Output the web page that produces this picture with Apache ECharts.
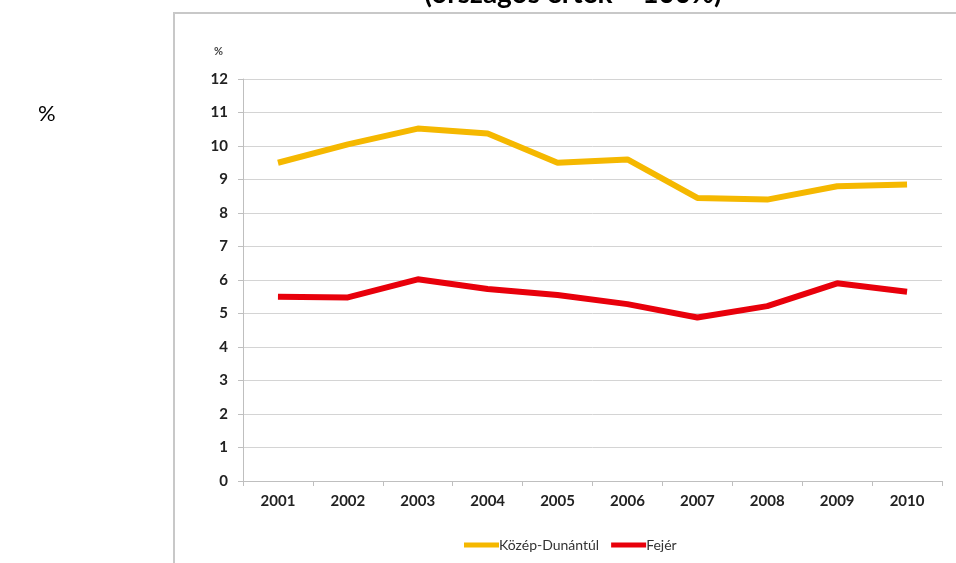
<!DOCTYPE html>
<html>
<head>
<meta charset="utf-8">
<script src="https://cdn.jsdelivr.net/npm/echarts@6/dist/echarts.min.js"></script>
<style>
  html, body { margin: 0; padding: 0; background: #fff; }
  #chart { width: 956px; height: 563px; }
</style>
</head>
<body>
<div id="chart"></div>
<script>
const years = ['2001', '2002', '2003', '2004', '2005', '2006', '2007', '2008', '2009', '2010'];
const kozepDunantul = [9.5, 10.05, 10.52, 10.37, 9.5, 9.6, 8.45, 8.4, 8.8, 8.85];
const fejer = [5.5, 5.48, 6.02, 5.73, 5.55, 5.28, 4.88, 5.22, 5.9, 5.65];

const chart = echarts.init(document.getElementById('chart'));

const option = {
    backgroundColor: '#fff',
    textStyle: { fontFamily: 'Lato' },
    title: {
        text: '(országos érték = 100%)',
        left: 568,
        textAlign: 'center',
        top: -25,
        textStyle: { fontSize: 28, fontWeight: 'bold', color: '#000', fontFamily: 'Lato' }
    },
    graphic: [
        {
            type: 'rect',
            shape: { x: 174, y: 13, width: 800, height: 600 },
            style: { fill: 'none', stroke: '#c8c8c8', lineWidth: 2 },
            z: 0
        },
        {
            type: 'text',
            left: 38,
            top: 103,
            style: { text: '%', fontSize: 22, fill: '#000', fontFamily: 'Lato' }
        }
    ],
    grid: { left: 243, right: 14, top: 79, bottom: 82, containLabel: false },
    legend: {
        data: ['Közép-Dunántúl', 'Fejér'],
        top: 533,
        left: 459,
        itemGap: 12,
        itemWidth: 35,
        itemHeight: 5,
        icon: 'rect',
        textStyle: { fontSize: 14, color: '#333', padding: [0, 0, 0, -5] }
    },
    xAxis: {
        type: 'category',
        data: years,
        boundaryGap: true,
        axisLine: { lineStyle: { color: '#bfbfbf' } },
        axisTick: { show: true, length: 5, lineStyle: { color: '#bfbfbf' } },
        axisLabel: { fontSize: 15, fontWeight: 'bold', color: '#222', margin: 13 }
    },
    yAxis: {
        type: 'value',
        min: 0,
        max: 12,
        interval: 1,
        name: '%',
        nameLocation: 'end',
        nameGap: 22,
        nameTextStyle: { fontSize: 11, fontWeight: 'bold', color: '#444', align: 'right', padding: [0, 20, 0, 0] },
        axisLine: { show: true, lineStyle: { color: '#bfbfbf' } },
        axisTick: { show: true, length: 5, lineStyle: { color: '#bfbfbf' } },
        axisLabel: { fontSize: 15, fontWeight: 'bold', color: '#222', margin: 15 },
        splitLine: { lineStyle: { color: '#d4d4d4', width: 1 } }
    },
    series: [
        {
            name: 'Közép-Dunántúl',
            type: 'line',
            data: kozepDunantul,
            symbol: 'none',
            color: '#F5B800',
            lineStyle: { width: 6, color: '#F5B800' }
        },
        {
            name: 'Fejér',
            type: 'line',
            data: fejer,
            symbol: 'none',
            color: '#E8000B',
            lineStyle: { width: 6, color: '#E8000B' }
        }
    ]
};

chart.setOption(option);
</script>
</body>
</html>
